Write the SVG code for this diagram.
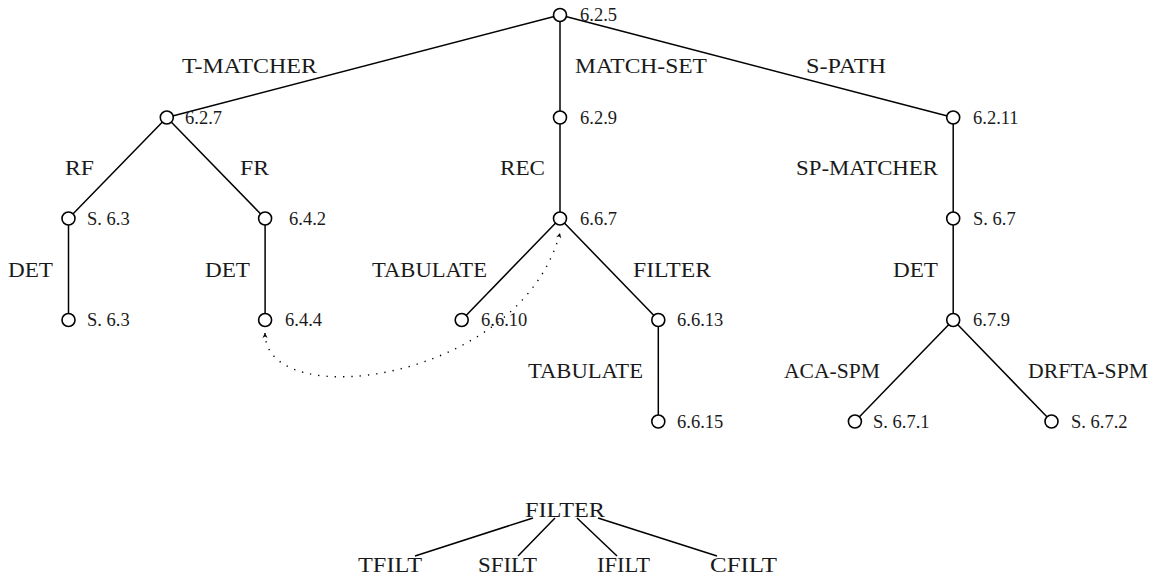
<svg xmlns="http://www.w3.org/2000/svg" width="1161" height="578" viewBox="0 0 1161 578">
<style>
.edge{stroke:#000;stroke-width:1.5;fill:none}
.nd circle{fill:#fff;stroke:#000;stroke-width:1.6}
.num{font-family:"Liberation Serif","Times New Roman",serif;font-size:18.5px;fill:#1a1a1a}
.lbl{font-family:"Liberation Serif","Times New Roman",serif;font-size:20.5px;fill:#1a1a1a}
.dot{stroke:#000;stroke-width:1.4;fill:none;stroke-dasharray:1.3 7}
</style>
<defs>
<marker id="ah" markerUnits="userSpaceOnUse" viewBox="-6 -4 7 8" refX="0" refY="0" markerWidth="7" markerHeight="8" orient="auto-start-reverse">
<path d="M0,0 L-5,-2.6 L-3.4,0 L-5,2.6 Z" fill="#000"/>
</marker>
</defs>
<rect width="1161" height="578" fill="#fff"/>
<g id="connectors">
<line class="edge" x1="560" y1="15" x2="166.8" y2="117.5"/>
<line class="edge" x1="560" y1="15" x2="560" y2="117.5"/>
<line class="edge" x1="560" y1="15" x2="953.2" y2="117.5"/>
<line class="edge" x1="166.8" y1="117.5" x2="68.5" y2="218.5"/>
<line class="edge" x1="166.8" y1="117.5" x2="265.1" y2="218.5"/>
<line class="edge" x1="68.5" y1="218.5" x2="68.5" y2="320"/>
<line class="edge" x1="265.1" y1="218.5" x2="265.1" y2="320"/>
<line class="edge" x1="560" y1="117.5" x2="560" y2="218.5"/>
<line class="edge" x1="560" y1="218.5" x2="461.7" y2="320"/>
<line class="edge" x1="560" y1="218.5" x2="658.3" y2="320"/>
<line class="edge" x1="658.3" y1="320" x2="658.3" y2="421.5"/>
<line class="edge" x1="953.2" y1="117.5" x2="953.2" y2="218.5"/>
<line class="edge" x1="953.2" y1="218.5" x2="953.2" y2="320"/>
<line class="edge" x1="953.2" y1="320" x2="854.9" y2="421.5"/>
<line class="edge" x1="953.2" y1="320" x2="1051.5" y2="421.5"/>
<path class="dot" d="M265,333 C265,415 520,382 560,233" marker-start="url(#ah)" marker-end="url(#ah)"/>
<text class="lbl" x="182" y="73" textLength="135" lengthAdjust="spacingAndGlyphs">T-MATCHER</text>
<text class="lbl" x="575" y="73" textLength="132" lengthAdjust="spacingAndGlyphs">MATCH-SET</text>
<text class="lbl" x="806" y="73" textLength="80" lengthAdjust="spacingAndGlyphs">S-PATH</text>
<text class="lbl" x="65" y="175" textLength="29" lengthAdjust="spacingAndGlyphs">RF</text>
<text class="lbl" x="240" y="175" textLength="29" lengthAdjust="spacingAndGlyphs">FR</text>
<text class="lbl" x="8" y="277" textLength="45" lengthAdjust="spacingAndGlyphs">DET</text>
<text class="lbl" x="205" y="277" textLength="45" lengthAdjust="spacingAndGlyphs">DET</text>
<text class="lbl" x="500" y="175" textLength="45" lengthAdjust="spacingAndGlyphs">REC</text>
<text class="lbl" x="372" y="277" textLength="115" lengthAdjust="spacingAndGlyphs">TABULATE</text>
<text class="lbl" x="633" y="277" textLength="78" lengthAdjust="spacingAndGlyphs">FILTER</text>
<text class="lbl" x="528" y="378" textLength="115" lengthAdjust="spacingAndGlyphs">TABULATE</text>
<text class="lbl" x="796" y="175" textLength="142" lengthAdjust="spacingAndGlyphs">SP-MATCHER</text>
<text class="lbl" x="893" y="277" textLength="45" lengthAdjust="spacingAndGlyphs">DET</text>
<text class="lbl" x="784" y="378" textLength="96" lengthAdjust="spacingAndGlyphs">ACA-SPM</text>
<text class="lbl" x="1028" y="378" textLength="120" lengthAdjust="spacingAndGlyphs">DRFTA-SPM</text>
<line class="edge" x1="533" y1="518" x2="415" y2="556"/>
<line class="edge" x1="555" y1="518" x2="518" y2="556"/>
<line class="edge" x1="577" y1="518" x2="617" y2="556"/>
<line class="edge" x1="598" y1="518" x2="717" y2="556"/>
</g>
<g id="n625" class="nd"><circle cx="560" cy="15" r="6.5"/><text class="num" x="580" y="21">6.2.5</text></g>
<g id="n627" class="nd"><circle cx="166.8" cy="117.5" r="6.5"/><text class="num" x="185" y="123.5">6.2.7</text></g>
<g id="n629" class="nd"><circle cx="560" cy="117.5" r="6.5"/><text class="num" x="580" y="123.5">6.2.9</text></g>
<g id="n6211" class="nd"><circle cx="953.2" cy="117.5" r="6.5"/><text class="num" x="973" y="123.5">6.2.11</text></g>
<g id="nS63a" class="nd"><circle cx="68.5" cy="218.5" r="6.5"/><text class="num" x="87" y="224.5">S. 6.3</text></g>
<g id="n642" class="nd"><circle cx="265.1" cy="218.5" r="6.5"/><text class="num" x="289" y="224.5">6.4.2</text></g>
<g id="n667" class="nd"><circle cx="560" cy="218.5" r="6.5"/><text class="num" x="580" y="224.5">6.6.7</text></g>
<g id="nS67" class="nd"><circle cx="953.2" cy="218.5" r="6.5"/><text class="num" x="973" y="224.5">S. 6.7</text></g>
<g id="nS63b" class="nd"><circle cx="68.5" cy="320" r="6.5"/><text class="num" x="87" y="326">S. 6.3</text></g>
<g id="n644" class="nd"><circle cx="265.1" cy="320" r="6.5"/><text class="num" x="285" y="326">6.4.4</text></g>
<g id="n6610" class="nd"><circle cx="461.7" cy="320" r="6.5"/><text class="num" x="481" y="326">6.6.10</text></g>
<g id="n6613" class="nd"><circle cx="658.3" cy="320" r="6.5"/><text class="num" x="677" y="326">6.6.13</text></g>
<g id="n679" class="nd"><circle cx="953.2" cy="320" r="6.5"/><text class="num" x="973" y="326">6.7.9</text></g>
<g id="n6615" class="nd"><circle cx="658.3" cy="421.5" r="6.5"/><text class="num" x="677" y="427.5">6.6.15</text></g>
<g id="nS671" class="nd"><circle cx="854.9" cy="421.5" r="6.5"/><text class="num" x="873" y="427.5">S. 6.7.1</text></g>
<g id="nS672" class="nd"><circle cx="1051.5" cy="421.5" r="6.5"/><text class="num" x="1071" y="427.5">S. 6.7.2</text></g>
<g id="fFILTER"><text class="lbl" x="525" y="517" textLength="80" lengthAdjust="spacingAndGlyphs">FILTER</text></g>
<g id="fTFILT"><text class="lbl" x="358" y="572" textLength="64" lengthAdjust="spacingAndGlyphs">TFILT</text></g>
<g id="fSFILT"><text class="lbl" x="478" y="572" textLength="59" lengthAdjust="spacingAndGlyphs">SFILT</text></g>
<g id="fIFILT"><text class="lbl" x="597" y="572" textLength="53" lengthAdjust="spacingAndGlyphs">IFILT</text></g>
<g id="fCFILT"><text class="lbl" x="710" y="572" textLength="67" lengthAdjust="spacingAndGlyphs">CFILT</text></g>
</svg>
